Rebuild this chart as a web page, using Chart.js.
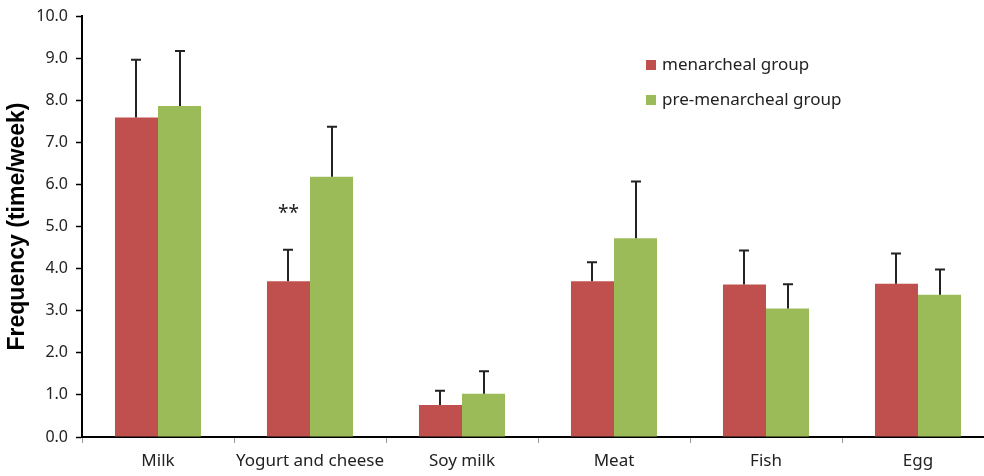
<!DOCTYPE html>
<html>
<head>
<meta charset="utf-8">
<script src="https://cdn.jsdelivr.net/npm/chart.js@4/dist/chart.umd.min.js"></script>
<style>
  html, body { margin: 0; padding: 0; background: #fff; overflow: hidden; width: 984px; height: 476px; }
  #wrap { position: absolute; left: 0; top: 0; width: 1000px; height: 476px; }
  #legend { position: absolute; left: 646px; top: 51px; font-family: "Noto Sans", "Open Sans", sans-serif; font-size: 17px; color: #222; }
  #legend div { height: 35px; line-height: 25px; white-space: nowrap; }
  #legend span.sw { display: inline-block; width: 10px; height: 10px; margin-right: 6px; vertical-align: 0px; }
</style>
</head>
<body>
<div id="wrap"><canvas id="c" width="1000" height="476"></canvas></div>
<div id="legend"></div>
<script>
const categories = ["Milk", "Yogurt and cheese", "Soy milk", "Meat", "Fish", "Egg"];
const seriesNames = ["menarcheal group", "pre-menarcheal group"];
const menarcheal = [7.59, 3.70, 0.76, 3.70, 3.62, 3.64];
const preMenarcheal = [7.86, 6.18, 1.03, 4.72, 3.05, 3.38];
const menarchealSD = [1.37, 0.75, 0.34, 0.45, 0.81, 0.72];
const preMenarchealSD = [1.31, 1.19, 0.53, 1.35, 0.58, 0.60];
const yTicks = [0, 1, 2, 3, 4, 5, 6, 7, 8, 9, 10];
const marks = [{ category: 1, series: 0, value: 5.3, text: "**" }];

const colors = ["#C0504D", "#9BBB59"];
const sds = [menarchealSD, preMenarchealSD];

document.getElementById('legend').innerHTML = seriesNames.map((n, i) =>
  `<div><span class="sw" style="background:${colors[i]}"></span>${n}</div>`).join('');

const errorBars = {
  id: 'errorBars',
  afterDatasetsDraw(chart) {
    const ctx = chart.ctx;
    const y = chart.scales.y;
    ctx.save();
    ctx.strokeStyle = '#222';
    ctx.lineWidth = 2;
    chart.data.datasets.forEach((ds, di) => {
      const meta = chart.getDatasetMeta(di);
      meta.data.forEach((bar, i) => {
        const top = y.getPixelForValue(ds.data[i] + sds[di][i]);
        const x = Math.round(bar.x);
        ctx.beginPath();
        ctx.moveTo(x, bar.y);
        ctx.lineTo(x, top);
        ctx.moveTo(x - 5, top);
        ctx.lineTo(x + 5, top);
        ctx.stroke();
      });
    });
    ctx.fillStyle = '#222';
    ctx.font = '19px "Noto Sans", sans-serif';
    ctx.textAlign = 'center';
    ctx.textBaseline = 'middle';
    marks.forEach(m => {
      const bar = chart.getDatasetMeta(m.series).data[m.category];
      ctx.fillText(m.text, bar.x, y.getPixelForValue(m.value));
    });
    ctx.restore();
  }
};

new Chart(document.getElementById('c'), {
  type: 'bar',
  data: {
    labels: categories,
    datasets: [
      { label: seriesNames[0], data: menarcheal, backgroundColor: colors[0] },
      { label: seriesNames[1], data: preMenarcheal, backgroundColor: colors[1] }
    ]
  },
  options: {
    responsive: false,
    animation: false,
    events: [],
    layout: { padding: { left: 4, right: 6, top: 15, bottom: 0 } },
    datasets: { bar: { categoryPercentage: 0.566, barPercentage: 1.0 } },
    plugins: { legend: { display: false }, tooltip: { enabled: false } },
    scales: {
      x: {
        grid: { drawOnChartArea: false, tickLength: 6, color: '#999', tickWidth: 1 },
        border: { color: '#000', width: 2 },
        ticks: { color: '#222', font: { family: '"Noto Sans", sans-serif', size: 17 }, padding: 8, maxRotation: 0 },
        afterFit(s) { s.height = 39; }
      },
      y: {
        min: 0, max: 10,
        afterBuildTicks(s) { s.ticks = yTicks.map(v => ({ value: v })); },
        grid: { drawOnChartArea: false, tickLength: 6, color: '#000', tickWidth: 1.5 },
        border: { color: '#000', width: 2 },
        ticks: { color: '#222', font: { family: '"Noto Sans", sans-serif', size: 16, lineHeight: 1 }, padding: 8, callback: v => v.toFixed(1) },
        title: { display: true, text: 'Frequency (time/week)', color: '#000', font: { family: '"Liberation Sans", Arial, sans-serif', size: 23, weight: 'bold' }, padding: { top: 0, bottom: 2 } },
        afterFit(s) { s.width = 78; }
      }
    }
  },
  plugins: [errorBars]
});
</script>
</body>
</html>
